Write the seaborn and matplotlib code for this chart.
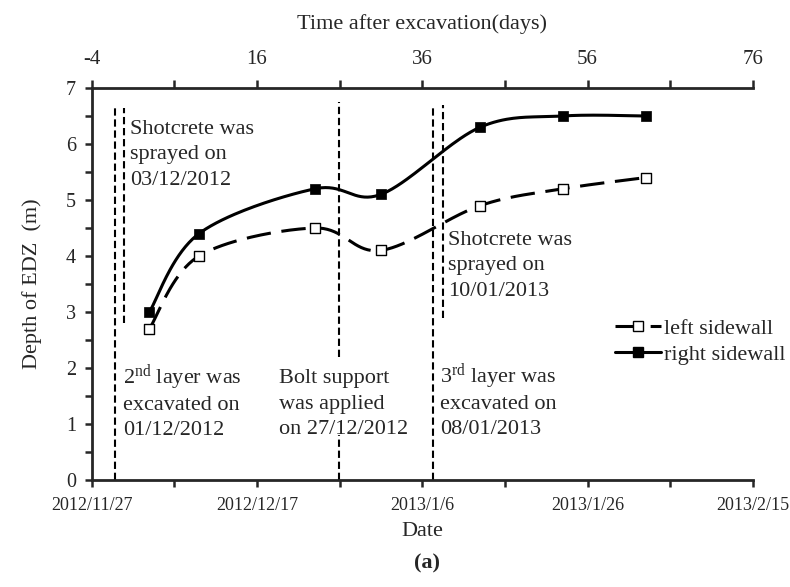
import numpy as np
import pandas as pd
import matplotlib
matplotlib.use("Agg")
import matplotlib.pyplot as plt
from matplotlib.lines import Line2D
from matplotlib.ticker import FixedLocator, MultipleLocator
import seaborn as sns

# Monitoring days, counted from 2012/11/27 (origin of the date axis)
days = [7, 13, 27, 35, 47, 57, 67]
left_sidewall = [2.7, 4.0, 4.5, 4.1, 4.9, 5.2, 5.4]
right_sidewall = [3.0, 4.4, 5.2, 5.1, 6.3, 6.5, 6.5]
series_names = ["left sidewall", "right sidewall"]

date_ticks = [0, 20, 40, 60, 80]
date_labels = ["2012/11/27", "2012/12/17", "2013/1/6", "2013/1/26", "2013/2/15"]
excavation_start = 4          # 2012/12/01 is day 0 after excavation
top_ticks = [-4, 16, 36, 56, 76]

# Construction events: dashed markers (day, lower and upper depth)
event_days = [2.9, 3.9, 29.9, 29.9, 41.25, 42.5]
event_ymin = [0.0, 2.8, 2.2, 0.0, 0.0, 2.9]
event_ymax = [6.7, 6.65, 6.75, 0.8, 6.7, 6.7]

notes = [
    ["Shotcrete was", "sprayed on", "03/12/2012"],
    ["2$^{\\mathrm{nd}}$ layer was", "excavated on", "01/12/2012"],
    ["Bolt support", "was applied", "on 27/12/2012"],
    ["3$^{\\mathrm{rd}}$ layer was", "excavated on", "08/01/2013"],
    ["Shotcrete was", "sprayed on", "10/01/2013"],
]
# left edge (days) and baseline of the first line (m)
note_x = [4.65, 3.8, 22.7, 42.2, 43.1]
note_y = [6.18, 1.71, 1.73, 1.73, 4.20]

sns.set_style("ticks")
plt.rcParams["font.family"] = ["Liberation Serif", "DejaVu Serif"]
plt.rcParams["axes.unicode_minus"] = False
plt.rcParams["mathtext.fontset"] = "custom"
plt.rcParams["mathtext.rm"] = "Liberation Serif"
plt.rcParams["mathtext.it"] = "Liberation Serif:italic"
plt.rcParams["mathtext.bf"] = "Liberation Serif:bold"


def smooth_path(x, y, n=40):
    """Bezier smoothing through the points (spreadsheet-style smoothed line)."""
    pts = np.column_stack([np.asarray(x, float), np.asarray(y, float)])
    pts = np.vstack([pts[0], pts, pts[-1]])
    t = np.linspace(0, 1, n)[:, None]
    pieces = []
    for i in range(1, len(pts) - 2):
        p0, p1, p2, p3 = pts[i - 1], pts[i], pts[i + 1], pts[i + 2]
        b1 = p1 + (p2 - p0) / 6.0
        b2 = p2 - (p3 - p1) / 6.0
        seg = ((1 - t) ** 3) * p1 + 3 * (1 - t) ** 2 * t * b1 + 3 * (1 - t) * t ** 2 * b2 + t ** 3 * p2
        pieces.append(seg if i == 1 else seg[1:])
    return np.vstack(pieces)


points = pd.DataFrame({
    "day": days * 2,
    "depth": left_sidewall + right_sidewall,
    "wall": [series_names[0]] * len(days) + [series_names[1]] * len(days),
})

curves = []
for name, vals in zip(series_names, [left_sidewall, right_sidewall]):
    p = smooth_path(days, vals)
    curves.append(pd.DataFrame({"day": p[:, 0], "depth": p[:, 1], "wall": name}))
curves = pd.concat(curves, ignore_index=True)

fig = plt.figure(figsize=(7.9, 5.87), dpi=100)
ax = fig.add_axes([91.5 / 790, 1 - 480 / 587, (753 - 91.5) / 790, (480 - 88) / 587])

# construction event lines
ax.vlines(event_days, event_ymin, event_ymax, colors="black", linewidth=1.5,
          linestyles=[(0, (3.5, 1.8))], zorder=2)

# smoothed curves
dash_left = (0, (8, 3.5))
sns.lineplot(data=curves[curves.wall == series_names[1]], x="day", y="depth",
             sort=False, estimator=None, color="black", linewidth=2.2, ax=ax,
             legend=False, zorder=3)
sns.lineplot(data=curves[curves.wall == series_names[0]], x="day", y="depth",
             sort=False, estimator=None, color="black", linewidth=2.2, ax=ax,
             legend=False, zorder=3)
ax.lines[-1].set_linestyle(dash_left)

# measured points
sns.scatterplot(data=points[points.wall == series_names[1]], x="day", y="depth",
                marker="s", s=62, color="black", edgecolor="black", linewidth=0.5,
                ax=ax, legend=False, zorder=4)
sns.scatterplot(data=points[points.wall == series_names[0]], x="day", y="depth",
                marker="s", s=44, facecolor="white", edgecolor="black", linewidth=1.0,
                ax=ax, legend=False, zorder=4)

# event notes, one line at a time with an even line pitch
line_pitch = 18.4  # points
for lines, xx, yy in zip(notes, note_x, note_y):
    for i, line in enumerate(lines):
        ax.annotate(line, xy=(xx, yy), xytext=(0, -i * line_pitch),
                    textcoords="offset points", fontsize=16, ha="left",
                    va="baseline", zorder=5)

ax.set_xlim(0, 80)
ax.set_ylim(0, 7)
ax.xaxis.set_major_locator(FixedLocator(date_ticks))
ax.set_xticklabels(date_labels)
ax.xaxis.set_minor_locator(FixedLocator([10, 30, 50, 70]))
ax.yaxis.set_major_locator(MultipleLocator(1))
ax.yaxis.set_minor_locator(MultipleLocator(0.5))

ax.tick_params(axis="x", which="both", direction="out", length=5, width=1.8,
               labelsize=13, pad=7)
ax.tick_params(axis="y", which="both", direction="out", length=5, width=1.8,
               labelsize=14.5, pad=6)
for side in ["left", "bottom"]:
    ax.spines[side].set_linewidth(2.0)
ax.spines["right"].set_visible(False)
ax.spines["top"].set_visible(False)

ax.set_xlabel("Date", fontsize=16, labelpad=6)
ax.set_ylabel("Depth of EDZ  (m)", fontsize=16, labelpad=17)

sec = ax.secondary_xaxis("top", functions=(lambda d: d - excavation_start,
                                           lambda t: t + excavation_start))
sec.xaxis.set_major_locator(FixedLocator(top_ticks))
sec.xaxis.set_minor_locator(FixedLocator([t + 10 for t in top_ticks[:-1]]))
sec.tick_params(axis="x", which="both", direction="out", length=6, width=1.8,
                labelsize=15, pad=8)
sec.spines["top"].set_linewidth(2.0)
sec.set_xlabel("Time after excavation(days)", fontsize=16, labelpad=15)

handles = [
    Line2D([], [], color="black", linewidth=2.2, linestyle=dash_left, marker="s",
           markersize=6.5, markerfacecolor="white", markeredgecolor="black",
           markeredgewidth=1.0),
    Line2D([], [], color="black", linewidth=2.2, marker="s", markersize=7.5,
           markerfacecolor="black", markeredgecolor="black"),
]
fig.legend(handles, series_names, loc="upper left",
           bbox_to_anchor=(615 / 790, 1 - 318 / 587), bbox_transform=fig.transFigure,
           frameon=False, fontsize=16, handlelength=2.05, handletextpad=0.15,
           borderpad=0, borderaxespad=0, labelspacing=0.25)

fig.text(427 / 790, 1 - 563 / 587, "(a)", fontsize=16, fontweight="bold",
         ha="center", va="center")

fig.savefig("out.png", dpi=100)
